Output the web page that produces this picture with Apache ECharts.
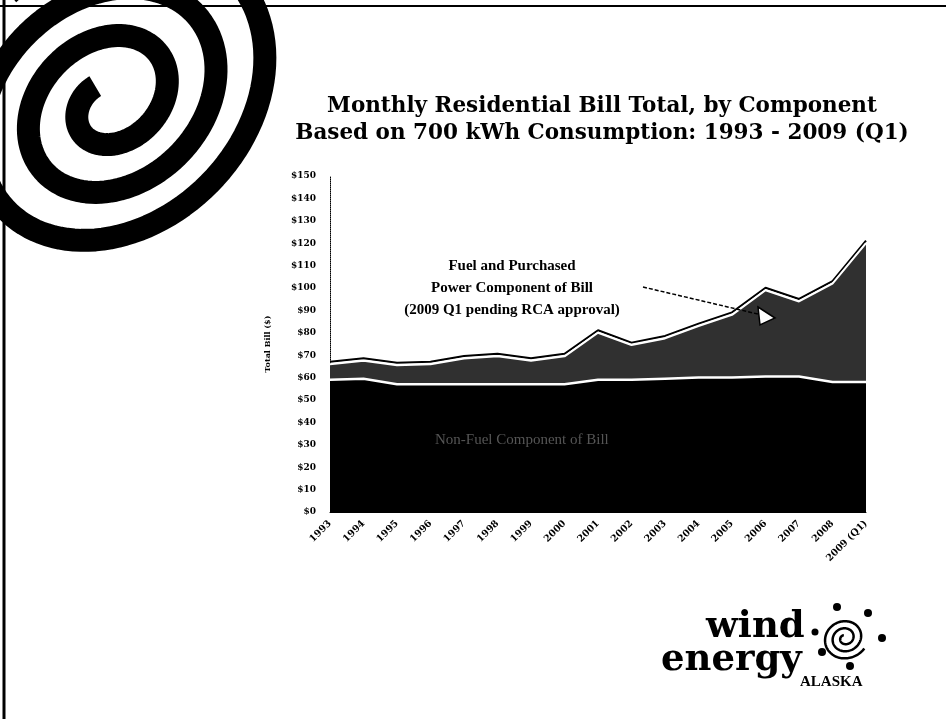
<!DOCTYPE html>
<html>
<head>
<meta charset="utf-8">
<script src="https://cdn.jsdelivr.net/npm/echarts@6/dist/echarts.min.js"></script>
<style>
html,body{margin:0;padding:0;background:#fff;}
#chart{width:946px;height:719px;}
</style>
</head>
<body>
<div id="chart"></div>
<script>
// ---- data ----
const years = ['1993','1994','1995','1996','1997','1998','1999','2000','2001','2002','2003','2004','2005','2006','2007','2008','2009 (Q1)'];
const nonFuel = [59, 59.5, 57, 57, 57, 57, 57, 57, 59, 59, 59.5, 60, 60, 60.5, 60.5, 58, 58];
const fuelPurchased = [7, 8, 8.5, 9, 11.5, 12.5, 10.5, 12.5, 21, 15.5, 18, 23, 28, 38.5, 33.5, 44, 62];
const titleLines = ['Monthly Residential Bill Total, by Component', 'Based on 700 kWh Consumption: 1993 - 2009 (Q1)'];
const annotationLines = ['Fuel and Purchased', 'Power Component of Bill', '(2009 Q1 pending RCA approval)'];

// ---- decorative spiral (logo) ----
function spiralPoints(cx, cy, r0, perTurn, turns, sx, sy, rot, start) {
  const pts = [];
  const n = Math.round(turns * 120);
  for (let i = 0; i <= n; i++) {
    const t = i / 120 * 2 * Math.PI;
    const r = r0 + perTurn * t / (2 * Math.PI);
    const a = start - t;
    const ex = r * Math.cos(a) * sx, ey = r * Math.sin(a) * sy;
    const x = cx + ex * Math.cos(rot) - ey * Math.sin(rot);
    const y = cy + ex * Math.sin(rot) + ey * Math.cos(rot);
    pts.push([x, y]);
  }
  return pts;
}

const chart = echarts.init(document.getElementById('chart'));
const serif = 'DejaVu Serif';

const option = {
  backgroundColor: '#fff',
  animation: false,
  title: {
    text: titleLines.join('\n'),
    left: 597,
    top: 88,
    textAlign: 'center',
    textStyle: { fontFamily: serif, fontWeight: 'bold', fontSize: 21.5, lineHeight: 27, color: '#000' }
  },
  grid: { left: 330, right: 80, top: 176, bottom: 207 },
  xAxis: {
    type: 'category',
    data: years,
    boundaryGap: false,
    axisLine: { show: true, lineStyle: { color: '#000', width: 1 } },
    axisTick: { show: false },
    axisLabel: { rotate: 45, margin: 10, fontFamily: serif, fontWeight: 'bold', fontSize: 9.5, color: '#000', interval: 0 }
  },
  yAxis: {
    type: 'value',
    min: 0, max: 150, interval: 10,
    name: 'Total Bill ($)',
    nameLocation: 'middle',
    nameGap: 58,
    nameTextStyle: { fontFamily: serif, fontWeight: 'bold', fontSize: 8, color: '#000' },
    axisLine: { show: true, lineStyle: { color: '#000', width: 1, type: 'dotted' } },
    axisTick: { show: false },
    splitLine: { show: false },
    axisLabel: { formatter: v => '$' + v, margin: 14, fontFamily: serif, fontWeight: 'bold', fontSize: 9, color: '#000' }
  },
  series: [
    {
      name: 'Non-Fuel',
      type: 'line',
      stack: 'bill',
      data: nonFuel,
      symbol: 'none',
      lineStyle: { color: '#fff', width: 2.5 },
      areaStyle: { color: '#000', opacity: 1 },
      z: 3
    },
    {
      name: 'Fuel and Purchased Power',
      type: 'line',
      stack: 'bill',
      data: fuelPurchased,
      symbol: 'none',
      lineStyle: { color: '#fff', width: 2, shadowColor: '#000', shadowBlur: 0, shadowOffsetY: -2.5 },
      areaStyle: { color: '#303030', opacity: 1 },
      z: 2
    }
  ],
  graphic: [
    // page frame
    { type: 'line', shape: { x1: 0, y1: 6, x2: 946, y2: 6 }, style: { stroke: '#000', lineWidth: 2 }, z: 10 },
    { type: 'line', shape: { x1: 4, y1: 0, x2: 4, y2: 719 }, style: { stroke: '#000', lineWidth: 3 }, z: 10 },
    // big spiral top-left
    { type: 'polyline', shape: { points: spiralPoints(110, 102, 24, 47, 3.0, 1.15, 0.9, -0.75, -Math.PI / 2) },
      style: { stroke: '#000', lineWidth: 23, fill: null, lineCap: 'butt', lineJoin: 'round' }, z: 9 },
    // annotation text
    { type: 'text', left: 512 - 130, top: 255, z: 20,
      style: { text: annotationLines.join('\n'), fontFamily: 'Liberation Serif', fontSize: 15, fontWeight: 'bold', lineHeight: 22, fill: '#000', align: 'center', width: 260, x: 130, textAlign: 'center' } },
    // arrow
    { type: 'line', shape: { x1: 643, y1: 287, x2: 762, y2: 315 }, style: { stroke: '#000', lineWidth: 1.5, lineDash: [4, 2] }, z: 20 },
    { type: 'polygon', shape: { points: [[758, 307], [775, 318], [760, 325]] }, style: { fill: '#fff', stroke: '#000', lineWidth: 1.5 }, z: 20 },
    // faint inner label
    { type: 'text', x: 435, y: 433, z: 20,
      style: { text: 'Non-Fuel Component of Bill', fontFamily: 'Liberation Serif', fontSize: 15, fill: '#555' } },
    // wind energy alaska logo
    { type: 'text', x: 706, y: 609, z: 20,
      style: { text: 'wind', fontFamily: serif, fontSize: 37, fontWeight: 'bold', fill: '#000' } },
    { type: 'text', x: 661, y: 642, z: 20,
      style: { text: 'energy', fontFamily: serif, fontSize: 37, fontWeight: 'bold', fill: '#000' } },
    { type: 'text', x: 800, y: 675, z: 20,
      style: { text: 'ALASKA', fontFamily: 'Liberation Serif', fontSize: 15, fontWeight: 'bold', fill: '#000' } },
    { type: 'polyline', shape: { points: spiralPoints(845, 638, 3, 7, 2.6, 1.1, 1, -0.4, -Math.PI / 2) },
      style: { stroke: '#000', lineWidth: 2.5, fill: null }, z: 20 },
    { type: 'circle', shape: { cx: 837, cy: 607, r: 4 }, style: { fill: '#000' }, z: 20 },
    { type: 'circle', shape: { cx: 868, cy: 613, r: 4 }, style: { fill: '#000' }, z: 20 },
    { type: 'circle', shape: { cx: 882, cy: 638, r: 4 }, style: { fill: '#000' }, z: 20 },
    { type: 'circle', shape: { cx: 850, cy: 666, r: 4 }, style: { fill: '#000' }, z: 20 },
    { type: 'circle', shape: { cx: 822, cy: 652, r: 4 }, style: { fill: '#000' }, z: 20 },
    { type: 'circle', shape: { cx: 815, cy: 632, r: 3.5 }, style: { fill: '#000' }, z: 20 }
  ]
};
chart.setOption(option);
</script>
</body>
</html>
